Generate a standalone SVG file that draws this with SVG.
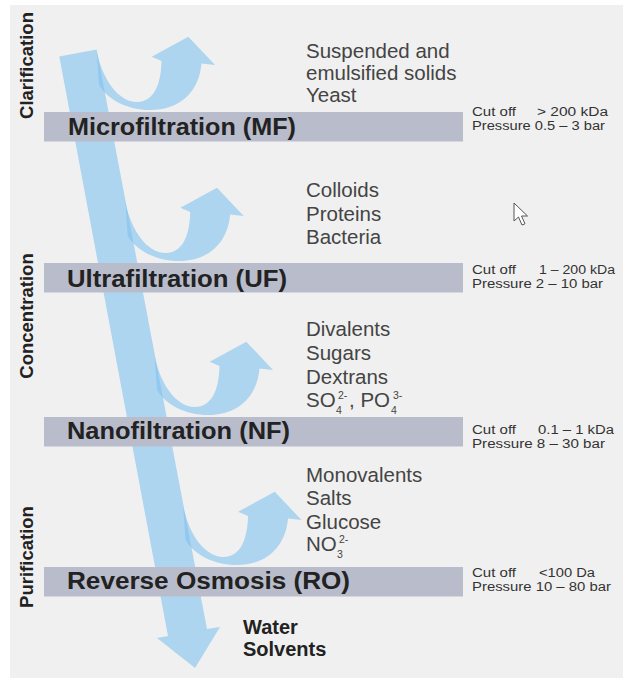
<svg xmlns="http://www.w3.org/2000/svg" xmlns:xlink="http://www.w3.org/1999/xlink" width="623" height="680" viewBox="0 0 623 680">
<style>
.flow{fill:#7dc1f0;fill-opacity:0.58}
.bar{fill:#b9bccb}
.stage{font-family:"Liberation Sans",Arial,sans-serif;font-weight:bold;font-size:23px;fill:#222}
.item{font-family:"Liberation Sans",Arial,sans-serif;font-size:20.5px;fill:#444}
.spec{font-family:"Liberation Sans",Arial,sans-serif;font-size:12.5px;fill:#333}
.side{font-family:"Liberation Sans",Arial,sans-serif;font-weight:bold;font-size:18.5px;fill:#222;text-anchor:middle}
.out{font-family:"Liberation Sans",Arial,sans-serif;font-weight:bold;font-size:20px;fill:#222}
.sm{font-size:10.5px}
</style>
<defs>
<path id="branch" d="M96.7,51.7 C103,80 118,101.5 137,102 C153,102 161,86 161.5,61 L151.7,56.7 L188.3,36.7 L215,65 L201.5,63.5 C199,92 180,110 150,110 C128,110 108,100 99,85 Z"/>
</defs>
<rect x="10" y="5" width="613" height="673" fill="#f0f0f0"/>
<g id="connectors">
<polygon id="main-flow" class="flow" points="59.3,56.6 96.7,49.4 207,629 220,627 195,668 157,638 168,636"/>
</g>
<g id="side-labels">
<text class="side" transform="translate(33,65.5) rotate(-90)">Clarification</text>
<text class="side" transform="translate(33,316) rotate(-90)">Concentration</text>
<text class="side" transform="translate(33,557) rotate(-90)">Purification</text>
</g>
<g id="mf">
<use xlink:href="#branch" href="#branch" class="flow"/>
<rect class="bar" x="44" y="112" width="419" height="29.5"/>
<text class="stage" x="68" y="135" textLength="228" lengthAdjust="spacingAndGlyphs">Microfiltration (MF)</text>
<text class="item" x="306" y="57.5">Suspended and</text>
<text class="item" x="306" y="80">emulsified solids</text>
<text class="item" x="306" y="102">Yeast</text>
<text class="spec" x="472" y="115.5" textLength="44" lengthAdjust="spacingAndGlyphs">Cut off</text>
<text class="spec" x="537" y="115.5" textLength="71" lengthAdjust="spacingAndGlyphs">&gt; 200 kDa</text>
<text class="spec" x="472" y="129.5" textLength="133" lengthAdjust="spacingAndGlyphs">Pressure 0.5 – 3 bar</text>
</g>
<g id="uf">
<use xlink:href="#branch" href="#branch" class="flow" transform="translate(28.7,151)"/>
<rect class="bar" x="44" y="263" width="419" height="29.5"/>
<text class="stage" x="67" y="286.5" textLength="220" lengthAdjust="spacingAndGlyphs">Ultrafiltration (UF)</text>
<text class="item" x="306" y="197">Colloids</text>
<text class="item" x="306" y="220.5">Proteins</text>
<text class="item" x="306" y="244">Bacteria</text>
<text class="spec" x="472" y="274" textLength="44" lengthAdjust="spacingAndGlyphs">Cut off</text>
<text class="spec" x="539" y="274" textLength="76" lengthAdjust="spacingAndGlyphs">1 – 200 kDa</text>
<text class="spec" x="472" y="288" textLength="131" lengthAdjust="spacingAndGlyphs">Pressure 2 – 10 bar</text>
</g>
<g id="nf">
<use xlink:href="#branch" href="#branch" class="flow" transform="translate(58,305)"/>
<rect class="bar" x="44" y="417" width="419" height="29.5"/>
<text class="stage" x="67" y="439" textLength="223" lengthAdjust="spacingAndGlyphs">Nanofiltration (NF)</text>
<text class="item" x="306" y="336">Divalents</text>
<text class="item" x="306" y="360">Sugars</text>
<text class="item" x="306" y="384">Dextrans</text>
<text class="item" x="306" y="407">SO<tspan class="sm" x="336" y="414">4</tspan><tspan class="sm" x="338" y="399">2-</tspan><tspan x="349" y="407">, PO</tspan><tspan class="sm" x="391" y="414">4</tspan><tspan class="sm" x="393" y="399">3-</tspan></text>
<text class="spec" x="472" y="433.5" textLength="44" lengthAdjust="spacingAndGlyphs">Cut off</text>
<text class="spec" x="538" y="433.5" textLength="76" lengthAdjust="spacingAndGlyphs">0.1 – 1 kDa</text>
<text class="spec" x="472" y="447.5" textLength="133" lengthAdjust="spacingAndGlyphs">Pressure 8 – 30 bar</text>
</g>
<g id="ro">
<use xlink:href="#branch" href="#branch" class="flow" transform="translate(86.5,455)"/>
<rect class="bar" x="44" y="567" width="419" height="29.5"/>
<text class="stage" x="67" y="589" textLength="283" lengthAdjust="spacingAndGlyphs">Reverse Osmosis (RO)</text>
<text class="item" x="306" y="481.5">Monovalents</text>
<text class="item" x="306" y="505">Salts</text>
<text class="item" x="306" y="528.5">Glucose</text>
<text class="item" x="306" y="551">NO<tspan class="sm" x="337" y="558">3</tspan><tspan class="sm" x="339" y="543">2-</tspan></text>
<text class="spec" x="472" y="577" textLength="44" lengthAdjust="spacingAndGlyphs">Cut off</text>
<text class="spec" x="539" y="577" textLength="56" lengthAdjust="spacingAndGlyphs">&lt;100 Da</text>
<text class="spec" x="472" y="591" textLength="139" lengthAdjust="spacingAndGlyphs">Pressure 10 – 80 bar</text>
</g>
<g id="permeate">
<text class="out" x="243" y="634">Water</text>
<text class="out" x="243" y="656">Solvents</text>
</g>
<g id="cursor">
<path d="M514,203 L514,221 L518.5,217 L522,225 L525,223.8 L521.5,216 L527.5,216 Z" fill="#fff" stroke="#555" stroke-width="1"/>
</g>
</svg>
